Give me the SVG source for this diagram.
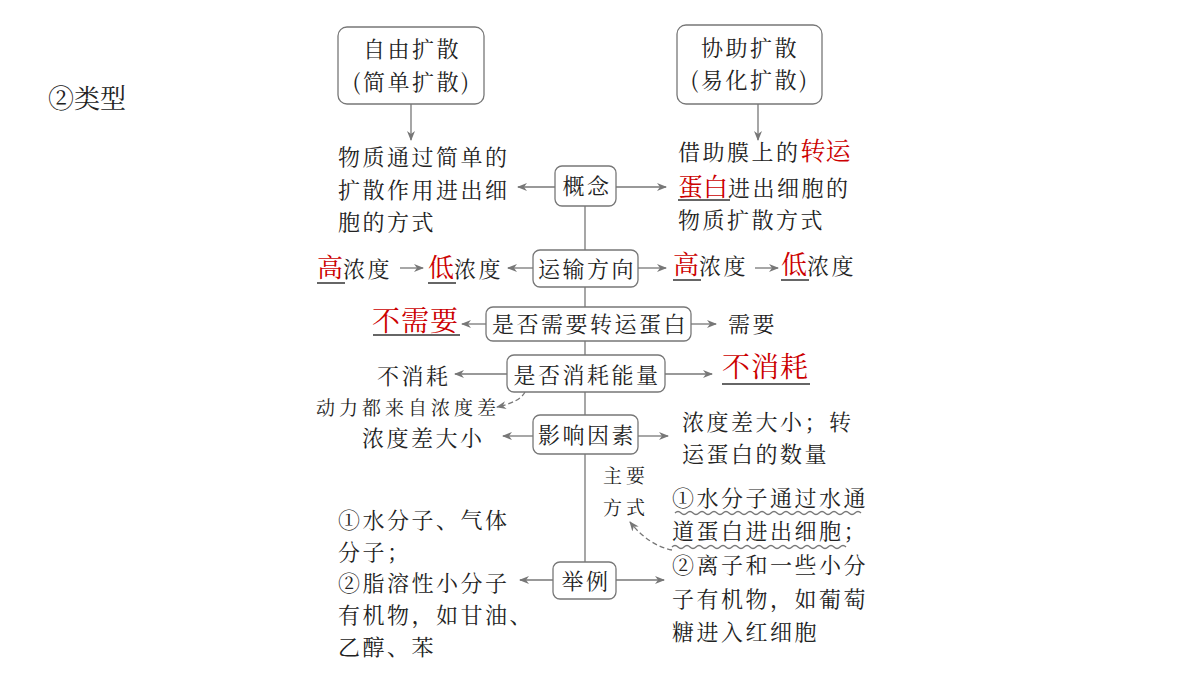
<svg xmlns="http://www.w3.org/2000/svg" width="1200" height="675" viewBox="0 0 1200 675">
<defs>
<marker id="ah" markerWidth="10" markerHeight="8" refX="9" refY="4" orient="auto" markerUnits="userSpaceOnUse"><path d="M0,0 L10,4 L0,8 L3,4 Z" fill="#777"/></marker>
<style>
text{font-family:"Noto Serif CJK SC","Noto Sans CJK SC",sans-serif;font-size:22px;fill:#222;letter-spacing:2.5px}
.r{fill:#cc0000}
.big{font-size:28px;letter-spacing:1px}
.sm{font-size:19px;letter-spacing:4px}
.box{fill:#fff;stroke:#777;stroke-width:1.3}
.ln{stroke:#777;stroke-width:1.3;fill:none}
.ul{stroke:#333;stroke-width:1.5}
.m{text-anchor:middle}
</style>
</defs>
<rect width="1200" height="675" fill="#fff"/>
<text x="48" y="108" style="font-size:26px;letter-spacing:0">②类型</text>
<g id="connectors">
<line class="ln" x1="585" y1="206" x2="585" y2="562"/>
<line class="ln" x1="411" y1="104" x2="411" y2="140" marker-end="url(#ah)"/>
<line class="ln" x1="758" y1="104" x2="758" y2="140" marker-end="url(#ah)"/>
<line class="ln" x1="555" y1="187" x2="518" y2="187" marker-end="url(#ah)"/>
<line class="ln" x1="616" y1="187" x2="666" y2="187" marker-end="url(#ah)"/>
<line class="ln" x1="533" y1="268" x2="508" y2="268" marker-end="url(#ah)"/>
<line class="ln" x1="638" y1="268" x2="666" y2="268" marker-end="url(#ah)"/>
<line class="ln" x1="400" y1="268" x2="423" y2="268" marker-end="url(#ah)"/>
<line class="ln" x1="755" y1="268" x2="778" y2="268" marker-end="url(#ah)"/>
<line class="ln" x1="486" y1="324" x2="462" y2="324" marker-end="url(#ah)"/>
<line class="ln" x1="691" y1="324" x2="716" y2="324" marker-end="url(#ah)"/>
<line class="ln" x1="507" y1="374" x2="455" y2="374" marker-end="url(#ah)"/>
<line class="ln" x1="665" y1="374" x2="712" y2="374" marker-end="url(#ah)"/>
<path class="ln" d="M525,392 Q520,402 497,407" stroke-dasharray="5,3" marker-end="url(#ah)"/>
<line class="ln" x1="533" y1="436" x2="503" y2="436" marker-end="url(#ah)"/>
<line class="ln" x1="638" y1="436" x2="668" y2="436" marker-end="url(#ah)"/>
<line class="ln" x1="553" y1="580" x2="520" y2="580" marker-end="url(#ah)"/>
<line class="ln" x1="616" y1="580" x2="664" y2="580" marker-end="url(#ah)"/>
<path class="ln" d="M672,550 Q648,545 630,522" stroke-dasharray="5,3" marker-end="url(#ah)"/>
</g>
<g id="n1"><rect class="box" x="338" y="27" width="146" height="77" rx="9"/><text class="m" x="412" y="57">自由扩散</text><text class="m" x="412" y="90">(简单扩散)</text></g>
<g id="n2"><rect class="box" x="677" y="25" width="145" height="79" rx="9"/><text class="m" x="750" y="56">协助扩散</text><text class="m" x="750" y="88">(易化扩散)</text></g>
<g id="n3"><rect class="box" x="555" y="166" width="61" height="40" rx="7"/><text class="m" x="587" y="194">概念</text></g>
<g id="n4"><rect class="box" x="533" y="250" width="105" height="37" rx="7"/><text class="m" x="587" y="277">运输方向</text></g>
<g id="n5"><rect class="box" x="486" y="307" width="205" height="34" rx="7"/><text class="m" x="590" y="332">是否需要转运蛋白</text></g>
<g id="n6"><rect class="box" x="507" y="355" width="158" height="37" rx="7"/><text class="m" x="587" y="383">是否消耗能量</text></g>
<g id="n7"><rect class="box" x="533" y="415" width="105" height="39" rx="7"/><text class="m" x="587" y="443">影响因素</text></g>
<g id="n8"><rect class="box" x="553" y="562" width="63" height="37" rx="7"/><text class="m" x="586" y="589">举例</text></g>
<g id="labels">
<text x="338" y="165">物质通过简单的</text>
<text x="338" y="198">扩散作用进出细</text>
<text x="338" y="230">胞的方式</text>
<text x="678" y="160">借助膜上的<tspan class="r" style="font-size:25px;letter-spacing:0">转运</tspan></text>
<text x="678" y="196"><tspan class="r" style="font-size:25px;letter-spacing:0">蛋白</tspan>进出细胞的</text>
<line class="ul" x1="678" y1="200" x2="730" y2="200"/>
<text x="678" y="228">物质扩散方式</text>
<text x="317" y="277"><tspan class="r" style="font-size:26px;letter-spacing:0">高</tspan>浓度</text>
<line class="ul" x1="317" y1="283" x2="345" y2="283"/>
<text x="428" y="277"><tspan class="r" style="font-size:26px;letter-spacing:0">低</tspan>浓度</text>
<line class="ul" x1="428" y1="283" x2="456" y2="283"/>
<text x="673" y="274"><tspan class="r" style="font-size:26px;letter-spacing:0">高</tspan>浓度</text>
<line class="ul" x1="673" y1="280" x2="701" y2="280"/>
<text x="781" y="274"><tspan class="r" style="font-size:26px;letter-spacing:0">低</tspan>浓度</text>
<line class="ul" x1="781" y1="280" x2="809" y2="280"/>
<text class="r big" x="372" y="331">不需要</text>
<line class="ul" x1="373" y1="335" x2="460" y2="335"/>
<text x="728" y="332">需要</text>
<text x="377" y="384">不消耗</text>
<text class="r big" x="722" y="377">不消耗</text>
<line class="ul" x1="722" y1="384" x2="810" y2="384"/>
<text class="sm" x="316" y="415">动力都来自浓度差</text>
<text x="362" y="446">浓度差大小</text>
<text x="682" y="430">浓度差大小；转</text>
<text x="682" y="462">运蛋白的数量</text>
<text class="sm" x="603" y="483">主要</text>
<text class="sm" x="603" y="515">方式</text>
<text x="672" y="506">①水分子通过水通</text>
<text x="672" y="539">道蛋白进出细胞；</text>
<path class="ln" stroke="#555" d="M675,513 q3,-3 6,0 t6,0 t6,0 t6,0 t6,0 t6,0 t6,0 t6,0 t6,0 t6,0 t6,0 t6,0 t6,0 t6,0 t6,0 t6,0 t6,0 t6,0 t6,0 t6,0 t6,0 t6,0 t6,0 t6,0 t6,0 t6,0 t6,0 t6,0 t6,0 t6,0 t6,0"/>
<path class="ln" stroke="#555" d="M672,547 q3,-3 6,0 t6,0 t6,0 t6,0 t6,0 t6,0 t6,0 t6,0 t6,0 t6,0 t6,0 t6,0 t6,0 t6,0 t6,0 t6,0 t6,0 t6,0 t6,0 t6,0 t6,0 t6,0 t6,0 t6,0 t6,0 t6,0 t6,0 t6,0 t6,0"/>
<text x="672" y="573">②离子和一些小分</text>
<text x="672" y="607">子有机物，如葡萄</text>
<text x="672" y="640">糖进入红细胞</text>
<text x="338" y="528">①水分子、气体</text>
<text x="338" y="560">分子；</text>
<text x="338" y="591">②脂溶性小分子</text>
<text x="338" y="623">有机物，如甘油、</text>
<text x="338" y="655">乙醇、苯</text>
</g>
</svg>
